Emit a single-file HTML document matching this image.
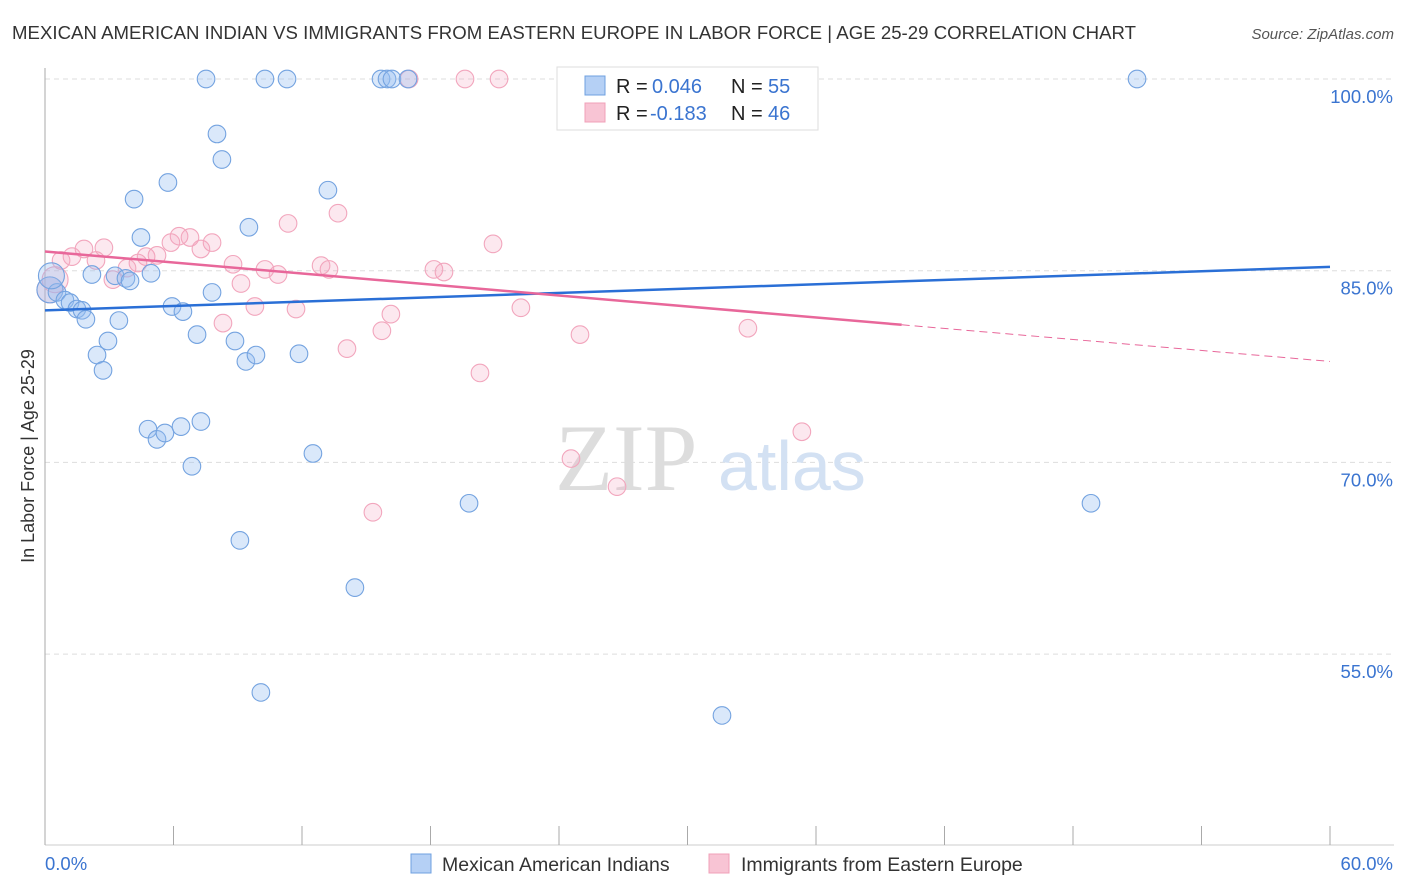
<!DOCTYPE html>
<html><head><meta charset="utf-8"><style>
body{margin:0;background:#fff;font-family:"Liberation Sans",sans-serif;}
svg{display:block}
</style></head><body>
<svg id="chart" width="1406" height="892">
<text x="12" y="39" font-size="18.6" fill="#333" textLength="1124">MEXICAN AMERICAN INDIAN VS IMMIGRANTS FROM EASTERN EUROPE IN LABOR FORCE | AGE 25-29 CORRELATION CHART</text>
<text x="1394" y="39" font-size="15" fill="#555" text-anchor="end" font-style="italic">Source: ZipAtlas.com</text>
<text transform="translate(34,456) rotate(-90)" font-size="18" fill="#333" text-anchor="middle">In Labor Force | Age 25-29</text>
<g id="grid"></g>
<text x="555" y="490" font-size="95" fill="#ddd" font-family="Liberation Serif,serif">ZIP</text>
<text x="718" y="490" font-size="70" fill="#d3e1f3">atlas</text>
<g id="pts"></g>
<g id="lines"></g>
<g>
<rect x="557" y="67" width="261" height="63" fill="#fff" stroke="#ddd"/>
<rect x="585" y="76" width="20" height="19" fill="#b5d0f5" stroke="#6fa0e0"/>
<rect x="585" y="103" width="20" height="19" fill="#f8c4d4" stroke="#f0a0b8"/>
<text x="616" y="93" font-size="20" fill="#222">R = <tspan x="652" fill="#3a74d0">0.046</tspan><tspan x="731">N = </tspan><tspan x="768" fill="#3a74d0">55</tspan></text>
<text x="616" y="120" font-size="20" fill="#222">R = <tspan x="650" fill="#3a74d0">-0.183</tspan><tspan x="731">N = </tspan><tspan x="768" fill="#3a74d0">46</tspan></text>
</g>
<g>
<rect x="411" y="854" width="20" height="19" fill="#b5d0f5" stroke="#6fa0e0"/>
<text x="442" y="871" font-size="19.5" fill="#333">Mexican American Indians</text>
<rect x="709" y="854" width="20" height="19" fill="#f8c4d4" stroke="#f0a0b8"/>
<text x="741" y="871" font-size="19.5" fill="#333">Immigrants from Eastern Europe</text>
</g>
</svg>
<script>
const blueX=[7.52,10.27,11.30,15.69,15.97,16.20,16.95,50.99,8.03,8.26,5.74,4.16,13.21,9.52,4.48,2.19,3.27,3.78,3.97,4.95,0.23,0.56,0.93,1.17,1.49,1.73,1.91,3.45,5.93,6.44,7.80,7.10,2.94,8.87,2.43,2.71,9.38,9.85,11.86,4.81,5.23,5.60,6.35,7.28,6.86,12.51,19.80,9.10,14.47,48.84,10.08,31.61,26.24,28.48,0.3];
const blueY=[100,100,100,100,100,100,100,100,95.7,93.7,91.9,90.6,91.3,88.4,87.6,84.7,84.6,84.4,84.2,84.8,83.5,83.3,82.7,82.5,82.0,81.9,81.2,81.1,82.2,81.8,83.3,80.0,79.5,79.5,78.4,77.2,77.9,78.4,78.5,72.6,71.8,72.3,72.8,73.2,69.7,70.7,66.8,63.9,60.2,66.8,52.0,50.2,100,100,84.6];
const pinkX=[19.61,21.20,17.0,32.12,13.68,11.35,20.92,6.26,6.77,5.88,7.80,7.28,2.75,1.82,1.26,0.75,2.38,4.72,5.23,4.34,8.78,10.27,10.88,12.89,13.26,18.16,18.63,3.83,3.17,9.15,9.80,11.72,16.15,15.73,8.31,22.22,24.98,32.82,14.10,20.31,35.34,24.56,26.71,15.31,0.47,0.23];
const pinkY=[100,100,100,100,89.5,88.7,87.1,87.7,87.6,87.2,87.2,86.7,86.8,86.7,86.1,85.8,85.8,86.1,86.2,85.6,85.5,85.1,84.7,85.4,85.1,85.1,84.9,85.2,84.3,84.0,82.2,82.0,81.6,80.3,80.9,82.1,80.0,80.5,78.9,77.0,72.4,70.3,68.1,66.1,84.3,83.5];
const yTicks=[100,85,70,55];
const xTickLabels=["0.0%","60.0%"];
const blueTrend=[81.9,85.3];
const pinkTrend=[86.5,77.9];
const pinkSolidEnd=40;
const X=v=>45+v/60*1285, Y=v=>79+(100-v)/15*191.7;
const NS="http://www.w3.org/2000/svg";
function mk(t,a,p){const e=document.createElementNS(NS,t);for(const k in a)e.setAttribute(k,a[k]);p.appendChild(e);return e;}
const g=document.getElementById('grid');
yTicks.forEach(t=>{
 const l=mk('line',{x1:45,x2:1394,y1:Y(t),y2:Y(t),stroke:'#ddd','stroke-dasharray':'5,4'},g);
 
 
 const tx=mk('text',{x:1393,y:Y(t)+24,'font-size':18.5,fill:'#3a74d0','text-anchor':'end'},g);
 tx.textContent=t.toFixed(1)+'%';
 
 
});
const ax=mk('line',{x1:45,x2:45,y1:68,y2:845,stroke:'#aaa'},g);


const bx=mk('line',{x1:45,x2:1394,y1:845,y2:845,stroke:'#ccc'},g);


for(let i=0;i<=10;i++){const t=mk('line',{x1:X(i*6),x2:X(i*6),y1:826,y2:845,stroke:'#aaa'},g);
 
 }
[[0,45,'start'],[60,1393,'end']].forEach((d,i)=>{const t=mk('text',{x:d[1],y:870,'font-size':18.5,fill:'#3a74d0','text-anchor':d[2]},g);t.textContent=xTickLabels[i];
 
 });
const p=document.getElementById('pts');
function pts(xs,ys,fill,stroke,name){xs.forEach((x,i)=>{const big=(x<0.5&&ys[i]>83&&ys[i]<85);
 const c=mk('circle',{cx:X(x),cy:Y(ys[i]),r:big?13:8.8,fill:fill,stroke:stroke,'stroke-width':1.1},p);
 
 });}
pts(pinkX,pinkY,'rgba(245,165,192,0.25)','#f2a6bd','pink-point');
pts(blueX,blueY,'rgba(150,190,240,0.35)','#74a3e0','blue-point');
const L=document.getElementById('lines');
const b=mk('line',{x1:X(0),y1:Y(blueTrend[0]),x2:X(60),y2:Y(blueTrend[1]),stroke:'#2a6fd6','stroke-width':2.5},L);


const pm=pinkTrend[0]+(pinkTrend[1]-pinkTrend[0])*pinkSolidEnd/60;
const ps=mk('line',{x1:X(0),y1:Y(pinkTrend[0]),x2:X(pinkSolidEnd),y2:Y(pm),stroke:'#e8679a','stroke-width':2.5},L);


const pd=mk('line',{x1:X(pinkSolidEnd),y1:Y(pm),x2:X(60),y2:Y(pinkTrend[1]),stroke:'#e8679a','stroke-width':1,'stroke-dasharray':'8,5'},L);


</script>
</body></html>
